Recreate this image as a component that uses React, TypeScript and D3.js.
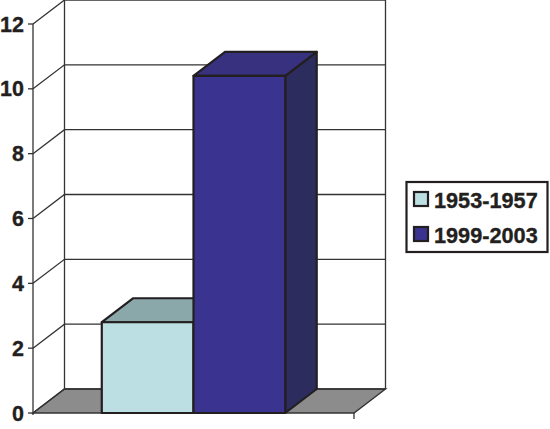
import { useRef, useEffect } from "react";
import * as d3 from "d3";

const periods = ["1953-1957", "1999-2003"];
const values = [2.8, 10.4];
const yTicks = [0, 2, 4, 6, 8, 10, 12];

const W = 550;
const H = 429;
const X0 = 33;
const X1 = 354;
const Y0 = 413;
const Y1 = 24;
// depth offset of the fake 3D back wall
const DX = 31.5;
const DY = 24;

const INK = "#231f20";
const GRID = "#333333";
const FONT = "'Liberation Sans', Arial, sans-serif";

const colors = [
  { front: "#bbdfe3", top: "#8aa8a9", side: "#6f8a8c" },
  { front: "#3a3490", top: "#37317f", side: "#2c2c5e" },
];

export default function App() {
  const svgRef = useRef<SVGSVGElement>(null);

  useEffect(() => {
    if (!svgRef.current) return;
    const svg = d3.select(svgRef.current);
    svg.selectAll("*").remove();

    const x = d3.scaleBand<string>().domain(periods).range([X0, X1]).paddingInner(0).paddingOuter(0.75);
    const y = d3.scaleLinear().domain([0, 12]).range([Y0, Y1]);
    const poly = (pts: [number, number][]) => d3.line()(pts)! + "Z";

    // Floor
    svg.append("path")
      .attr("d", poly([[X0, Y0], [X1, Y0], [X1 + DX, Y0 - DY], [X0 + DX, Y0 - DY]]))
      .attr("fill", "#8c8c8c")
      .attr("stroke", GRID)
      .attr("stroke-width", 1.4);

    // Grid lines: back wall plus the diagonal on the side wall
    yTicks.forEach(t => {
      const yy = y(t);
      svg.append("path")
        .attr("d", d3.line()([[X0, yy], [X0 + DX, yy - DY], [X1 + DX, yy - DY]])!)
        .attr("fill", "none")
        .attr("stroke", GRID)
        .attr("stroke-width", 1.3);
      svg.append("line")
        .attr("x1", X0 - 5).attr("x2", X0)
        .attr("y1", yy).attr("y2", yy)
        .attr("stroke", GRID)
        .attr("stroke-width", 1.3);
      svg.append("text")
        .attr("x", 24).attr("y", yy + 7.5)
        .attr("text-anchor", "end")
        .attr("font-family", FONT)
        .attr("font-weight", 700)
        .attr("font-size", 21.5)
        .attr("fill", INK)
        .attr("stroke", INK)
        .attr("stroke-width", 0.35)
        .text(t);
    });

    // Wall verticals and front axis
    [
      [X0, Y0 + 2, X0, Y1],
      [X0 + DX, Y0 - DY, X0 + DX, Y1 - DY],
      [X1 + DX, Y0 - DY, X1 + DX, Y1 - DY],
      [X1, Y0, X1, Y0 + 6],
    ].forEach(([a, b, c, d]) => {
      svg.append("line")
        .attr("x1", a).attr("y1", b).attr("x2", c).attr("y2", d)
        .attr("stroke", GRID)
        .attr("stroke-width", 1.3);
    });

    // Bars, back to front
    periods.forEach((p, i) => {
      const left = x(p)!;
      const right = left + x.bandwidth();
      const top = y(values[i]);
      const faces = svg.append("g")
        .attr("stroke", INK)
        .attr("stroke-width", 2.2)
        .attr("stroke-linejoin", "round");
      faces.append("path")
        .attr("d", poly([[right, Y0], [right + DX, Y0 - DY], [right + DX, top - DY], [right, top]]))
        .attr("fill", colors[i].side);
      faces.append("path")
        .attr("d", poly([[left, top], [left + DX, top - DY], [right + DX, top - DY], [right, top]]))
        .attr("fill", colors[i].top);
      faces.append("rect")
        .attr("x", left).attr("y", top)
        .attr("width", x.bandwidth()).attr("height", Y0 - top)
        .attr("fill", colors[i].front);
    });

    // Legend
    const legend = svg.append("g");
    legend.append("rect")
      .attr("x", 406.5).attr("y", 182)
      .attr("width", 141).attr("height", 70)
      .attr("fill", "#fff")
      .attr("stroke", INK)
      .attr("stroke-width", 2.2);
    periods.forEach((p, i) => {
      const rowY = 192 + i * 35;
      legend.append("rect")
        .attr("x", 414).attr("y", rowY)
        .attr("width", 14).attr("height", 14)
        .attr("fill", colors[i].front)
        .attr("stroke", INK)
        .attr("stroke-width", 2.2);
      legend.append("text")
        .attr("x", 434).attr("y", rowY + 15.5)
        .attr("font-family", FONT)
        .attr("font-weight", 700)
        .attr("font-size", 21.7)
        .attr("fill", INK)
        .attr("stroke", INK)
        .attr("stroke-width", 0.35)
        .text(p);
    });
  }, []);

  return <svg ref={svgRef} width={W} height={H} style={{ position: "absolute", left: 0, top: 0, background: "#fff" }} />;
}
